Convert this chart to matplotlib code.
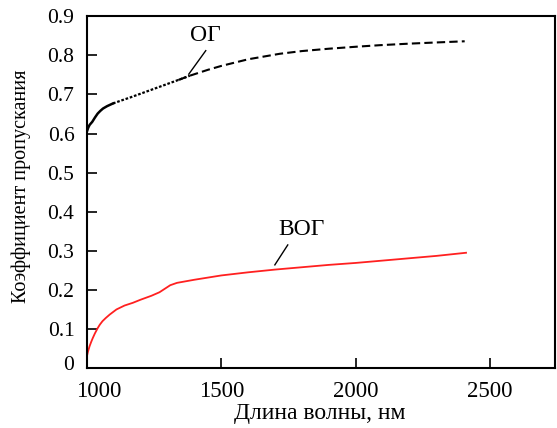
import numpy as np
import matplotlib
matplotlib.use('Agg')
import matplotlib.pyplot as plt
from matplotlib.transforms import ScaledTranslation

plt.rcParams['font.family'] = ['Liberation Serif', 'DejaVu Serif']

# ОГ (black)
og_wl = [1000, 1005, 1010, 1020, 1030, 1040, 1050, 1060, 1075, 1097, 1130, 1160, 1220,
         1280, 1340, 1383, 1450, 1500, 1600, 1717, 1800, 1900, 2000, 2089, 2200, 2300, 2405]
og_val = [0.605, 0.615, 0.622, 0.630, 0.641, 0.651, 0.658, 0.664, 0.670, 0.677, 0.685, 0.692, 0.707,
          0.722, 0.737, 0.748, 0.763, 0.773, 0.790, 0.804, 0.811, 0.817, 0.822, 0.826, 0.830, 0.833, 0.836]

# ВОГ (red)
vog_wl = [1000, 1004, 1010, 1016, 1022, 1030, 1040, 1048, 1058, 1070, 1085, 1110, 1140, 1171, 1200,
          1240, 1270, 1290, 1310, 1335, 1400, 1500, 1600, 1700, 1800, 1900, 2000, 2100, 2200, 2300, 2410]
vog_val = [0.030, 0.042, 0.056, 0.067, 0.077, 0.089, 0.102, 0.111, 0.120, 0.128, 0.137, 0.150, 0.160, 0.167, 0.175,
           0.185, 0.194, 0.203, 0.212, 0.218, 0.226, 0.237, 0.245, 0.252, 0.258, 0.264, 0.269, 0.275, 0.281, 0.287, 0.295]

x_ticks = [1000, 1500, 2000, 2500]
y_ticks = [0, 0.1, 0.2, 0.3, 0.4, 0.5, 0.6, 0.7, 0.8, 0.9]
y_labels = ['0', '0.1', '0.2', '0.3', '0.4', '0.5', '0.6', '0.7', '0.8', '0.9']

fig = plt.figure(figsize=(5.57, 4.28), dpi=100)
ax = fig.add_axes([0.156, 0.14, 0.84, 0.822])

og_wl = np.array(og_wl); og_val = np.array(og_val)
m1 = og_wl <= 1100
m2 = (og_wl >= 1097) & (og_wl <= 1383)
m3 = og_wl >= 1340
ax.plot(og_wl[m1], og_val[m1], color='black', lw=1.8)
ax.plot(og_wl[m2], og_val[m2], color='black', lw=1.6, linestyle=(0, (1.2, 0.8)))
ax.plot(og_wl[m3], og_val[m3], color='black', lw=1.5, linestyle=(0, (4, 2)))

ax.plot(vog_wl, vog_val, color='#ff2020', lw=1.3)

# подписи кривых
ax.text(1440, 0.851, 'ОГ', fontsize=17, ha='center', va='center')
ax.plot([1442, 1379], [0.812, 0.752], color='black', lw=1)
ax.text(1800, 0.354, 'ВОГ', fontsize=17, ha='center', va='center')
ax.plot([1747, 1699], [0.315, 0.264], color='black', lw=1)

ax.set_xlim(1000, 2740)
ax.set_ylim(0, 0.9)
ax.set_xticks(x_ticks)
ax.set_yticks(y_ticks)
ax.set_yticklabels(y_labels)
ax.tick_params(direction='in', length=7, width=1.2)
ax.tick_params(axis='y', labelsize=15.5, pad=9)
ax.tick_params(axis='x', labelsize=16.5, pad=9)
for s in ax.spines.values():
    s.set_linewidth(1.5)

# первая подпись по оси x сдвинута вправо, "0" немного выше
lbl = ax.get_xticklabels()[0]
lbl.set_transform(lbl.get_transform() + ScaledTranslation(12 / 100, 0, fig.dpi_scale_trans))
lbl0 = ax.get_yticklabels()[0]
lbl0.set_transform(lbl0.get_transform() + ScaledTranslation(0, 5 / 100, fig.dpi_scale_trans))

ax.set_xlabel('Длина волны, нм', fontsize=17)
ax.set_ylabel('Коэффициент пропускания', fontsize=14.5)
ax.xaxis.set_label_coords(0.498, -0.1)
ax.yaxis.set_label_coords(-0.12, 0.518)

fig.savefig('out.png', dpi=100)
